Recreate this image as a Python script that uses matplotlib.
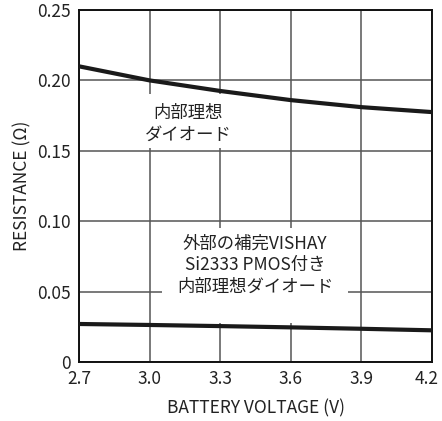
import matplotlib
matplotlib.use("Agg")
import matplotlib.pyplot as plt
from matplotlib.patches import Rectangle
from matplotlib.ticker import FixedLocator
from matplotlib.transforms import ScaledTranslation

plt.rcParams['font.family'] = ['Noto Sans CJK JP', 'DejaVu Sans']

# Battery voltage (V)
voltage = [2.7, 3.0, 3.3, 3.6, 3.9, 4.2]
# Internal ideal diode only
r_internal = [0.210, 0.200, 0.1925, 0.186, 0.1810, 0.1775]
# Internal ideal diode with external Si2333 PMOS
r_with_pmos = [0.0270, 0.0263, 0.0255, 0.0246, 0.0236, 0.0225]

x_ticks = [2.7, 3.0, 3.3, 3.6, 3.9, 4.2]
x_ticklabels = ["2.7", "3.0", "3.3", "3.6", "3.9", "4.2"]
y_ticks = [0, 0.05, 0.10, 0.15, 0.20, 0.25]
y_ticklabels = ["0", "0.05", "0.10", "0.15", "0.20", "0.25"]

fig = plt.figure(figsize=(4.42, 4.21), dpi=100)
ax = fig.add_axes([79 / 442, 1 - 362 / 421, 353 / 442, 352 / 421])

ax.set_xlim(2.7, 4.2)
ax.set_ylim(0, 0.25)
ax.xaxis.set_major_locator(FixedLocator(x_ticks))
ax.yaxis.set_major_locator(FixedLocator(y_ticks))
ax.set_xticklabels(x_ticklabels)
ax.set_yticklabels(y_ticklabels)
ax.tick_params(length=0, labelsize=12.5, pad=6, colors='#222222')
ax.grid(True, color='#555555', linewidth=1.1, zorder=1)
for s in ax.spines.values():
    s.set_linewidth(1.4)
    s.set_color('#111111')

# keep the last x tick label inside the figure
last = ax.get_xticklabels()[-1]
last.set_transform(last.get_transform() + ScaledTranslation(-5 / 100, 0, fig.dpi_scale_trans))

ax.plot(voltage, r_internal, color='#1a1a1a', linewidth=3.0, zorder=4,
        solid_capstyle='butt')
ax.plot(voltage, r_with_pmos, color='#1a1a1a', linewidth=3.0, zorder=4,
        solid_capstyle='butt')

# White backing boxes behind the annotations
ax.add_patch(Rectangle((2.96, 0.152), 0.40, 0.038, facecolor='white',
                       edgecolor='none', zorder=2))
ax.add_patch(Rectangle((3.053, 0.0277), 0.79, 0.0675, facecolor='white',
                       edgecolor='none', zorder=2))

ax.text(3.163, 0.169, "内部理想\nダイオード", ha='center', va='center',
        fontsize=12.5, linespacing=1.25, color='#222222', zorder=3)
ax.text(3.448, 0.0689, "外部の補完VISHAY\nSi2333 PMOS付き\n内部理想ダイオード",
        ha='center', va='center', fontsize=12.5, linespacing=1.25,
        color='#222222', zorder=3)

ax.set_xlabel("BATTERY VOLTAGE (V)", fontsize=12.5, labelpad=8, color='#222222')
ax.set_ylabel("RESISTANCE (Ω)", fontsize=12.5, color='#222222')
ax.yaxis.set_label_coords(-48 / 353, 0.5)

fig.savefig("out.png", dpi=100)
